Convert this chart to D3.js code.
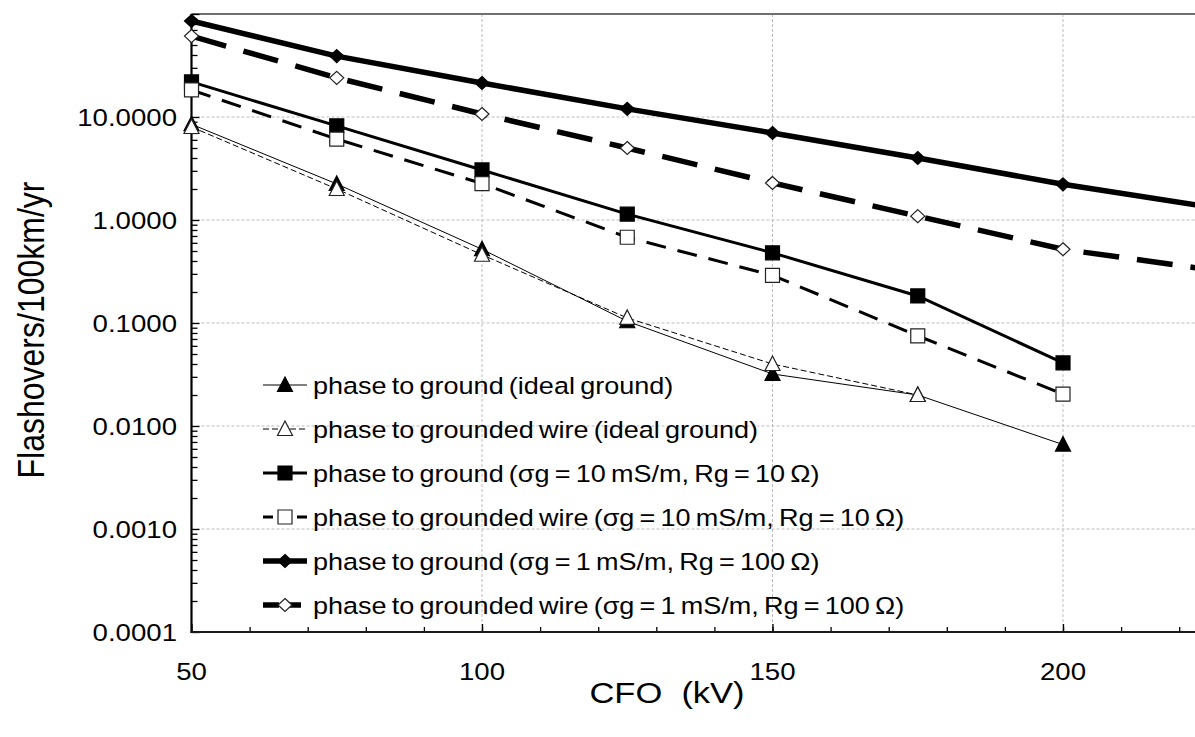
<!DOCTYPE html>
<html>
<head>
<meta charset="utf-8">
<script src="https://cdn.jsdelivr.net/npm/d3@7"></script>
<style>
  html, body { margin: 0; padding: 0; background: #fff; }
  svg { display: block; }
  text { font-family: "Liberation Sans", Arial, sans-serif; fill: #000; white-space: pre; }
</style>
</head>
<body>
<svg id="chart" width="1195" height="737"></svg>
<script>
// ---- data ----
const cfo = [50, 75, 100, 125, 150, 175, 200, 250];
const pgIdeal = [8.5, 2.24, 0.52, 0.104, 0.032, 0.020, 0.0066];
const pwIdeal = [8.0, 2.0, 0.46, 0.112, 0.040, 0.020];
const pg10 = [21.9, 8.2, 3.06, 1.14, 0.48, 0.183, 0.041];
const pw10 = [18.3, 6.1, 2.26, 0.68, 0.29, 0.075, 0.0204];
const pg1 = [85.5, 39, 21.4, 12.0, 7.0, 4.0, 2.22, 0.81];
const pw1 = [61, 24, 10.7, 5.0, 2.29, 1.09, 0.52, 0.21];
const seriesNames = [
  "phase to ground (ideal ground)",
  "phase to grounded wire (ideal ground)",
  "phase to ground (\u03c3g = 10 mS/m, Rg = 10 \u03a9)",
  "phase to grounded wire (\u03c3g = 10 mS/m, Rg = 10 \u03a9)",
  "phase to ground (\u03c3g = 1 mS/m, Rg = 100 \u03a9)",
  "phase to grounded wire (\u03c3g = 1 mS/m, Rg = 100 \u03a9)"
];
const yTickValues = [0.0001, 0.001, 0.01, 0.1, 1, 10];
const yTickLabels = ["0.0001", "0.0010", "0.0100", "0.1000", "1.0000", "10.0000"];
const xTickValues = [50, 100, 150, 200];
const xTickLabels = ["50", "100", "150", "200"];
const xTitle = "CFO  (kV)";
const yTitle = "Flashovers/100km/yr";

// ---- styles ----
const styles = [
  { data: pgIdeal, marker: "triangle", fill: "#000", width: 1, dash: null },
  { data: pwIdeal, marker: "triangle", fill: "#fff", width: 1, dash: "6,3" },
  { data: pg10, marker: "square", fill: "#000", width: 3, dash: null },
  { data: pw10, marker: "square", fill: "#fff", width: 3, dash: "20,12" },
  { data: pg1, marker: "diamond", fill: "#000", width: 5.5, dash: null },
  { data: pw1, marker: "diamond", fill: "#fff", width: 5.5, dash: "36,18" }
];

const SX = 1.15; // horizontal text stretch
const svg = d3.select("#chart");
const pLeft = 191.5, pTop = 14, pBottom = 632, pRight = 1195;
const x = d3.scaleLinear().domain([50, 250]).range([pLeft, pLeft + 200 * 5.81]);
const y = d3.scaleLog().domain([0.0001, 100]).range([pBottom, pTop]);

// gridlines
const grid = svg.append("g");
grid.selectAll("line.h").data([0.001, 0.01, 0.1, 1, 10]).join("line").attr("class", "h")
  .attr("x1", pLeft).attr("x2", pRight)
  .attr("y1", d => y(d)).attr("y2", d => y(d))
  .attr("stroke", "#bdbdbd").attr("stroke-width", 1).attr("stroke-dasharray", "3,2");
grid.selectAll("line.v").data([100, 150, 200]).join("line").attr("class", "v")
  .attr("x1", d => x(d)).attr("x2", d => x(d))
  .attr("y1", pTop).attr("y2", pBottom)
  .attr("stroke", "#bdbdbd").attr("stroke-width", 1).attr("stroke-dasharray", "3,2");

// top border
svg.append("line").attr("x1", pLeft).attr("x2", pRight).attr("y1", pTop).attr("y2", pTop)
  .attr("stroke", "#707070").attr("stroke-width", 2);

// y axis (ticks inside)
const yAxisMinor = d3.axisRight(y).tickValues(
  d3.range(-4, 2).flatMap(e => d3.range(2, 10).map(m => m * Math.pow(10, e)))
).tickSize(6).tickFormat("");
const gy1 = svg.append("g").attr("transform", `translate(${pLeft},0)`).call(yAxisMinor);
const yAxisMajor = d3.axisRight(y).tickValues(yTickValues.concat([100])).tickSize(8).tickFormat("");
const gy2 = svg.append("g").attr("transform", `translate(${pLeft},0)`).call(yAxisMajor);
[gy1, gy2].forEach(g => {
  g.select(".domain").remove();
  g.selectAll("line").attr("stroke", "#000").attr("stroke-width", 1.3);
});

// x axis (ticks inside)
const xAxisMinor = d3.axisTop(x).tickValues(d3.range(60, 251, 10)).tickSize(5).tickFormat("");
const gx1 = svg.append("g").attr("transform", `translate(0,${pBottom})`).call(xAxisMinor);
const xAxisMajor = d3.axisTop(x).tickValues(xTickValues).tickSize(8).tickFormat("");
const gx2 = svg.append("g").attr("transform", `translate(0,${pBottom})`).call(xAxisMajor);
[gx1, gx2].forEach(g => {
  g.select(".domain").remove();
  g.selectAll("line").attr("stroke", "#000").attr("stroke-width", 1.3);
});

// axis lines
svg.append("line").attr("x1", pLeft).attr("x2", pLeft).attr("y1", pTop).attr("y2", pBottom + 1)
  .attr("stroke", "#000").attr("stroke-width", 2.2);
svg.append("line").attr("x1", pLeft - 1).attr("x2", pRight).attr("y1", pBottom).attr("y2", pBottom)
  .attr("stroke", "#1a1a1a").attr("stroke-width", 2.2);

// tick labels
svg.append("g").selectAll("text").data(yTickValues).join("text")
  .attr("transform", d => `translate(177,${y(d) + 8.5}) scale(${SX},1)`)
  .attr("text-anchor", "end").attr("font-size", 24)
  .text((d, i) => yTickLabels[i]);
svg.append("g").selectAll("text").data(xTickValues).join("text")
  .attr("transform", d => `translate(${x(d)},680) scale(${SX},1)`)
  .attr("text-anchor", "middle").attr("font-size", 24)
  .text((d, i) => xTickLabels[i]);

// titles
svg.append("text").attr("transform", `translate(667,703) scale(${SX},1)`)
  .attr("text-anchor", "middle").attr("font-size", 30).text(xTitle);
svg.append("text").attr("transform", `translate(44,330) scale(${SX},1) rotate(-90)`)
  .attr("text-anchor", "middle").attr("font-size", 32).text(yTitle);

// markers
function markerPath(type) {
  if (type === "triangle") return "M0,-8 L7.5,6.5 L-7.5,6.5 Z";
  if (type === "square") return "M-7,-7 H7 V7 H-7 Z";
  return "M0,-6.5 L7,0 L0,6.5 L-7,0 Z";
}

// series
svg.append("clipPath").attr("id", "plotclip").append("rect")
  .attr("x", pLeft).attr("y", pTop).attr("width", pRight - pLeft).attr("height", pBottom - pTop);
const line = d3.line().x(d => x(d[0])).y(d => y(d[1]));
styles.forEach((s, i) => {
  const pts = s.data.map((v, k) => [cfo[k], v]);
  const g = svg.append("g");
  g.append("path").attr("d", line(pts)).attr("fill", "none")
    .attr("stroke", "#000").attr("stroke-width", s.width)
    .attr("stroke-dasharray", s.dash).attr("clip-path", "url(#plotclip)");
  g.selectAll("path.m").data(pts).join("path").attr("class", "m")
    .attr("d", markerPath(s.marker))
    .attr("transform", d => `translate(${x(d[0])},${y(d[1])})`)
    .attr("fill", s.fill).attr("stroke", s.fill === "#fff" ? "#222" : "#000")
    .attr("stroke-width", 1.2);
});

// legend
const lg = svg.append("g");
styles.forEach((s, i) => {
  const ly = 385 + i * 44;
  lg.append("line").attr("x1", 263).attr("x2", 307).attr("y1", ly).attr("y2", ly)
    .attr("stroke", "#000").attr("stroke-width", s.width)
    .attr("stroke-dasharray", s.dash ? (s.width < 2 ? "6,3" : (s.width < 4 ? "10,7" : "16,6")) : null);
  lg.append("path").attr("d", markerPath(s.marker))
    .attr("transform", `translate(285,${ly})`)
    .attr("fill", s.fill).attr("stroke", s.fill === "#fff" ? "#222" : "#000").attr("stroke-width", 1.2);
  lg.append("text").attr("transform", `translate(313,${ly + 8.5}) scale(${SX},1)`)
    .attr("font-size", 23.5).attr("word-spacing", -2).text(seriesNames[i]);
});
</script>
</body>
</html>
